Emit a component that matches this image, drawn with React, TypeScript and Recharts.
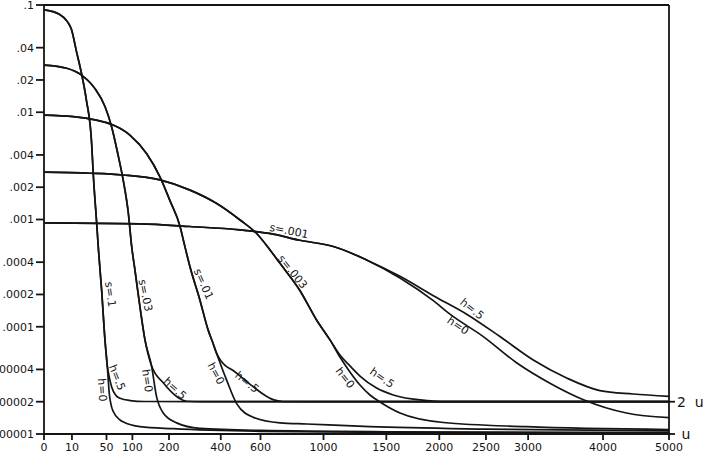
import { LineChart, Line, XAxis, YAxis, ReferenceLine, ReferenceDot } from 'recharts';

type Pt = [number, number];

const xTicks = [0, 10, 50, 100, 200, 400, 600, 1000, 1500, 2000, 2500, 3000, 4000, 5000];
const yTicks = [0.00001, 0.00002, 0.00004, 0.0001, 0.0002, 0.0004, 0.001, 0.002, 0.004, 0.01, 0.02, 0.04, 0.1];
const uTicks = [0.00001, 0.00002];

// s = .1
const s1Trunk: Pt[] = [[0, 0.09], [3, 0.082], [7, 0.07], [9.5, 0.06], [13.7, 0.036], [18, 0.023], [23, 0.013], [29, 0.0052], [31, 0.0027], [35.5, 0.00093], [38, 0.00052], [42.5, 0.00022], [47.6, 0.000075], [51.3, 0.000043]];
const s1H5: Pt[] = [[55, 0.000033], [58.6, 0.0000275], [66, 0.000023], [74, 0.0000215], [95, 0.0000205], [130, 0.0000201], [300, 0.00002], [5000, 0.00002]];
const s1H0: Pt[] = [[54.6, 0.0000236], [58.6, 0.0000178], [61.4, 0.0000162], [74, 0.0000135], [80, 0.000013], [118, 0.0000117], [214, 0.0000112], [600, 0.0000106], [2000, 0.0000103], [5000, 0.0000102]];

// s = .03
const s03Trunk: Pt[] = [[0, 0.0275], [6.6, 0.0257], [18, 0.0222], [33, 0.0167], [47.6, 0.0113], [58.6, 0.0073], [70.7, 0.0039], [80.5, 0.0023], [91, 0.00115], [98.4, 0.00056], [106, 0.000335], [118, 0.000152], [130.5, 0.0000754], [148, 0.0000432]];
const s03H5: Pt[] = [[182, 0.00003], [225, 0.0000224], [261, 0.0000202], [320, 0.00002], [5000, 0.00002]];
const s03H0: Pt[] = [[162, 0.0000224], [182, 0.0000157], [225, 0.0000127], [311, 0.0000113], [600, 0.0000108], [1500, 0.0000105], [5000, 0.0000103]];

// s = .01
const s01Trunk: Pt[] = [[0, 0.0094], [11, 0.0091], [61, 0.0076], [95, 0.0061], [135, 0.0041], [172, 0.0025], [203, 0.0015], [237, 0.00086], [250, 0.00062], [273, 0.00036], [311, 0.000178], [345, 0.000093], [363, 0.0000728], [381, 0.0000567]];
const s01H5: Pt[] = [[401, 0.000048], [424, 0.000043], [458, 0.0000391], [507, 0.0000329], [561, 0.0000275], [614, 0.0000236], [672, 0.0000209], [731, 0.0000201], [900, 0.00002], [5000, 0.00002]];
const s01H0: Pt[] = [[427, 0.0000318], [475, 0.0000192], [561, 0.0000143], [713, 0.0000127], [883, 0.0000124], [1360, 0.0000117], [2500, 0.0000111], [5000, 0.0000107]];

// s = .003
const s003Trunk: Pt[] = [[0, 0.00276], [27, 0.0027], [80, 0.0026], [172, 0.00234], [273, 0.00188], [382, 0.00141], [492, 0.00099], [579, 0.00074], [654, 0.00052], [713, 0.00039], [838, 0.000218], [952, 0.000115], [1047, 0.0000754]];
const s003H5: Pt[] = [[1121, 0.0000545], [1198, 0.0000432], [1278, 0.0000347], [1416, 0.0000268], [1561, 0.0000231], [1874, 0.0000205], [2037, 0.00002], [5000, 0.00002]];
const s003H0: Pt[] = [[1121, 0.0000522], [1198, 0.0000379], [1278, 0.0000286], [1360, 0.0000231], [1445, 0.0000199], [1622, 0.0000157], [2041, 0.0000128], [2983, 0.0000117], [5000, 0.000011]];

// s = .001
const s001Trunk: Pt[] = [[0, 0.00093], [118, 0.00091], [273, 0.00086], [492, 0.0008], [672, 0.00073], [838, 0.00064], [1071, 0.00056], [1332, 0.00042]];
const s001H5: Pt[] = [[1622, 0.000295], [1940, 0.000195], [2287, 0.000131], [2661, 0.000081], [3064, 0.000049], [3496, 0.0000333], [3956, 0.0000254], [4443, 0.0000236], [5000, 0.0000224]];
const s001H0: Pt[] = [[1622, 0.000285], [1940, 0.000175], [2109, 0.000131], [2470, 0.000081], [2858, 0.0000462], [3276, 0.0000298], [3725, 0.0000209], [4343, 0.0000157], [5000, 0.0000142]];

// curve tags, anchored in data units, with their rotation in degrees
const curveLabels = [
  { text: 's=.1', x: 56, v: 0.0002, angle: 82 },
  { text: 's=.03', x: 131, v: 0.000196, angle: 78 },
  { text: 's=.01', x: 325, v: 0.00025, angle: 66 },
  { text: 's=.003', x: 790, v: 0.000324, angle: 51 },
  { text: 's=.001', x: 768, v: 0.00078, angle: 11 },
  { text: 'h=.5', x: 2344, v: 0.000146, angle: 39 },
  { text: 'h=0', x: 2193, v: 0.000102, angle: 34 },
  { text: 'h=.5', x: 1462, v: 0.0000332, angle: 35 },
  { text: 'h=0', x: 1159, v: 0.0000332, angle: 52 },
  { text: 'h=.5', x: 527, v: 0.0000304, angle: 39 },
  { text: 'h=0', x: 378, v: 0.0000366, angle: 62 },
  { text: 'h=.5', x: 219, v: 0.0000265, angle: 43 },
  { text: 'h=0', x: 136, v: 0.0000313, angle: 82 },
  { text: 'h=.5', x: 68, v: 0.0000336, angle: 68 },
  { text: 'h=0', x: 43, v: 0.0000258, angle: 86 },
];

const toRows = (pts: Pt[]) => pts.map(([x, v]) => ({ x, v }));

const curves = [
  { key: 's1-h5', rows: toRows([...s1Trunk, ...s1H5]) },
  { key: 's1-h0', rows: toRows([...s1Trunk, ...s1H0]) },
  { key: 's03-h5', rows: toRows([...s03Trunk, ...s03H5]) },
  { key: 's03-h0', rows: toRows([...s03Trunk, ...s03H0]) },
  { key: 's01-h5', rows: toRows([...s01Trunk, ...s01H5]) },
  { key: 's01-h0', rows: toRows([...s01Trunk, ...s01H0]) },
  { key: 's003-h5', rows: toRows([...s003Trunk, ...s003H5]) },
  { key: 's003-h0', rows: toRows([...s003Trunk, ...s003H0]) },
  { key: 's001-h5', rows: toRows([...s001Trunk, ...s001H5]) },
  { key: 's001-h0', rows: toRows([...s001Trunk, ...s001H0]) },
];

const INK = '#141414';
const fmtY = (v: number) => String(v).replace(/^0/, '');
const fmtU = (v: number) => (v === 0.00002 ? '2\u00a0\u00a0u' : '\u00a0u');

export default function App() {
  return (
    <div style={{ position: 'absolute', left: 0, top: 0, width: 703, height: 466, background: '#fff', fontFamily: '"DejaVu Sans", sans-serif' }}>
      <LineChart width={703} height={466} margin={{ top: 5, right: 0, bottom: 0, left: 0 }}>
        <XAxis
          dataKey="x"
          type="number"
          scale="sqrt"
          domain={[0, 5000]}
          ticks={xTicks}
          interval={0}
          allowDataOverflow
          height={32}
          tickSize={6}
          tickMargin={3}
          stroke={INK}
          strokeWidth={1.8}
          tick={{ fill: INK, fontSize: 11 }}
        />
        <YAxis
          yAxisId="l"
          dataKey="v"
          type="number"
          scale="log"
          domain={[0.00001, 0.1]}
          ticks={yTicks}
          interval={0}
          allowDataOverflow
          width={44}
          tickSize={8}
          tickMargin={2}
          tickFormatter={fmtY}
          stroke={INK}
          strokeWidth={1.8}
          tick={{ fill: INK, fontSize: 11 }}
        />
        <YAxis
          yAxisId="r"
          orientation="right"
          type="number"
          scale="log"
          domain={[0.00001, 0.1]}
          ticks={uTicks}
          interval={0}
          allowDataOverflow
          width={34}
          tickSize={6}
          tickMargin={2}
          tickFormatter={fmtU}
          stroke={INK}
          strokeWidth={1.8}
          tick={{ fill: INK, fontSize: 14 }}
        />
        <ReferenceLine yAxisId="l" y={0.1} stroke={INK} strokeWidth={1.8} />
        {curves.map((c) => (
          <Line
            key={c.key}
            yAxisId="l"
            data={c.rows}
            dataKey="v"
            type="monotone"
            stroke={INK}
            strokeWidth={1.7}
            dot={false}
            activeDot={false}
            isAnimationActive={false}
          />
        ))}
        {curveLabels.map((l, i) => (
          <ReferenceDot
            key={i}
            yAxisId="l"
            x={l.x}
            y={l.v}
            r={0}
            shape={(p: any) => (
              <text
                x={p.cx}
                y={p.cy}
                transform={`rotate(${l.angle} ${p.cx} ${p.cy})`}
                textAnchor="middle"
                dominantBaseline="central"
                fontSize={11}
                fill={INK}
              >
                {l.text}
              </text>
            )}
          />
        ))}
      </LineChart>
    </div>
  );
}
